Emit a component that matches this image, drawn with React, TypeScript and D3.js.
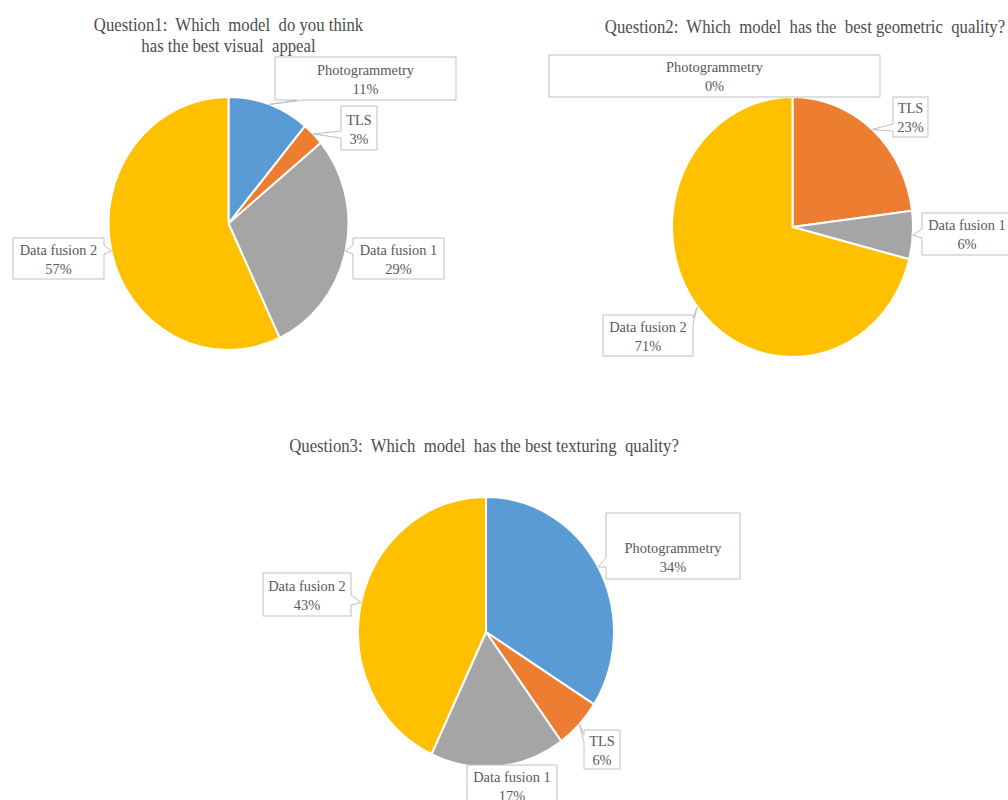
import React from 'react';
import * as d3 from 'd3';

// ---------- data ----------
const categories = ['Photogrammetry', 'TLS', 'Data fusion 1', 'Data fusion 2'];
const sliceColors = ['#5B9BD5', '#ED7D31', '#A5A5A5', '#FFC000'];
const q1Values = [11, 3, 29, 57];
const q2Values = [0, 23, 6, 71];
const q3Values = [34, 6, 17, 43];
const q1Title = ['Question1:  Which  model  do you think', 'has the best visual  appeal'];
const q2Title = ['Question2:  Which  model  has the  best geometric  quality?'];
const q3Title = ['Question3:  Which  model  has the best texturing  quality?'];

// ---------- layout ----------
type Side = 'left' | 'right' | 'top' | 'bottom' | 'none';
type Box = { x: number; y: number; w: number; h: number; side: Side; b0: number; b1: number; dy?: number };
type PieLayout = {
  values: number[];
  title: string[];
  titleX: number;
  titleY: number;
  cx: number;
  cy: number;
  rx: number;
  ry: number;
  boxes: Box[];
};

const W = 1008;
const H = 800;
const SX = 0.93; // horizontal squeeze of text
const TEXT_COLOR = '#595959';
const TITLE_COLOR = '#4d4d4d';
const FONT = '"Liberation Serif", "Times New Roman", serif';

const pies: PieLayout[] = [
  {
    values: q1Values, title: q1Title, titleX: 228.5, titleY: 31,
    cx: 228.5, cy: 223.5, rx: 120, ry: 126.5,
    boxes: [
      { x: 275, y: 57, w: 181, h: 43, side: 'bottom', b0: 297, b1: 304 },
      { x: 341, y: 106, w: 36, h: 44, side: 'left', b0: 131, b1: 138, dy: 1 },
      { x: 353, y: 238, w: 91, h: 41, side: 'left', b0: 245, b1: 254 },
      { x: 13, y: 238, w: 91, h: 41, side: 'right', b0: 245, b1: 254 },
    ],
  },
  {
    values: q2Values, title: q2Title, titleX: 805, titleY: 33,
    cx: 792.5, cy: 227, rx: 120.5, ry: 130,
    boxes: [
      { x: 549, y: 55, w: 331, h: 42, side: 'none', b0: 0, b1: 0 },
      { x: 893, y: 97, w: 35, h: 40, side: 'left', b0: 124, b1: 131 },
      { x: 922, y: 213, w: 90, h: 42, side: 'left', b0: 229, b1: 238 },
      { x: 603, y: 315, w: 90, h: 41, side: 'right', b0: 318, b1: 325 },
    ],
  },
  {
    values: q3Values, title: q3Title, titleX: 484, titleY: 452,
    cx: 486, cy: 632, rx: 128, ry: 135,
    boxes: [
      { x: 606, y: 513, w: 134, h: 66, side: 'left', b0: 558, b1: 567, dy: 11 },
      { x: 584, y: 730, w: 36, h: 39, side: 'left', b0: 735, b1: 742 },
      { x: 467, y: 765, w: 90, h: 45, side: 'none', b0: 0, b1: 0, dy: -2 },
      { x: 263, y: 573, w: 88, h: 43, side: 'right', b0: 595, b1: 605 },
    ],
  },
];

function calloutPath(b: Box, ax: number, ay: number): string {
  const x0 = b.x, y0 = b.y, x1 = b.x + b.w, y1 = b.y + b.h;
  const p = d3.path();
  p.moveTo(x0, y0);
  if (b.side === 'top') { p.lineTo(b.b0, y0); p.lineTo(ax, ay); p.lineTo(b.b1, y0); }
  p.lineTo(x1, y0);
  if (b.side === 'right') { p.lineTo(x1, b.b0); p.lineTo(ax, ay); p.lineTo(x1, b.b1); }
  p.lineTo(x1, y1);
  if (b.side === 'bottom') { p.lineTo(b.b1, y1); p.lineTo(ax, ay); p.lineTo(b.b0, y1); }
  p.lineTo(x0, y1);
  if (b.side === 'left') { p.lineTo(x0, b.b1); p.lineTo(ax, ay); p.lineTo(x0, b.b0); }
  p.closePath();
  return p.toString();
}

function SText({ x, y, size, color, children }: { x: number; y: number; size: number; color: string; children: string }) {
  return (
    <text
      transform={`translate(${x},${y}) scale(${SX},1)`}
      textAnchor="middle"
      fontFamily={FONT}
      fontSize={size}
      fill={color}
      style={{ whiteSpace: 'pre' }}
    >
      {children}
    </text>
  );
}

function PieChart({ layout }: { layout: PieLayout }) {
  const { values, cx, cy, rx, ry } = layout;
  const pieGen = d3.pie<number>().sort(null).value((d) => d);
  const arcs = pieGen(values);
  const arcGen = d3.arc<d3.PieArcDatum<number>>().innerRadius(0).outerRadius(ry);
  const color = d3.scaleOrdinal<string, string>().domain(categories).range(sliceColors);

  return (
    <g>
      {layout.title.map((t, i) => (
        <SText key={i} x={layout.titleX} y={layout.titleY + i * 21} size={18} color={TITLE_COLOR}>{t}</SText>
      ))}
      <g transform={`translate(${cx},${cy}) scale(${rx / ry},1)`}>
        {arcs.map((a, i) => (
          <path
            key={i}
            d={arcGen(a) || ''}
            fill={color(categories[i])}
            stroke="#ffffff"
            strokeWidth={2}
            strokeLinejoin="round"
            vectorEffect="non-scaling-stroke"
          />
        ))}
      </g>
      {arcs.map((a, i) => {
        const b = layout.boxes[i];
        const mid = (a.startAngle + a.endAngle) / 2;
        const ax = cx + rx * Math.sin(mid);
        const ay = cy - ry * Math.cos(mid);
        const tx = b.x + b.w / 2;
        const ty = b.y + b.h / 2 - 4 + (b.dy || 0);
        return (
          <g key={`lbl${i}`}>
            <path d={calloutPath(b, ax, ay)} fill="#ffffff" stroke="#bfbfbf" strokeWidth={1} />
            <SText x={tx} y={ty} size={15.5} color={TEXT_COLOR}>{categories[i]}</SText>
            <SText x={tx} y={ty + 19} size={15.5} color={TEXT_COLOR}>{`${values[i]}%`}</SText>
          </g>
        );
      })}
    </g>
  );
}

export default function App() {
  return (
    <svg
      width={W}
      height={H}
      viewBox={`0 0 ${W} ${H}`}
      style={{ position: 'absolute', left: 0, top: 0, background: '#ffffff' }}
    >
      <rect x={0} y={0} width={W} height={H} fill="#ffffff" />
      {pies.map((p, i) => (
        <PieChart key={i} layout={p} />
      ))}
    </svg>
  );
}
